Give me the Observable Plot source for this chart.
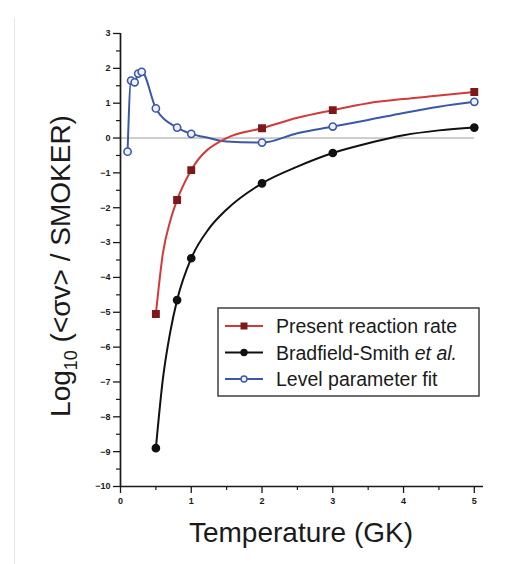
<!DOCTYPE html>
<html>
<head>
<meta charset="utf-8">
<script src="https://cdn.jsdelivr.net/npm/d3@7"></script>
<script src="https://cdn.jsdelivr.net/npm/@observablehq/plot@0.6"></script>
<style>
  body { margin: 0; background: #fff; }
  #chart { position: relative; width: 514px; height: 564px; }
  #chart .edge { position: absolute; left: 14px; top: 18px; bottom: 0; border-left: 1px solid #e6e6e6; }
  #chart svg { position: absolute; left: 0; top: 0; }
</style>
</head>
<body>
<div id="chart"><div class="edge"></div></div>
<script>
// Present reaction rate (line vertices; squares drawn at the tabulated temperatures)
const presentT   = [0.5, 0.6, 0.7, 0.8, 1.0, 1.5, 2.0, 2.5, 3.0, 3.5, 4.0, 4.5, 5.0];
const presentLog = [-5.05, -3.3, -2.4, -1.78, -0.92, 0.0, 0.28, 0.58, 0.8, 1.0, 1.12, 1.22, 1.32];
const presentMarkT = [0.5, 0.8, 1.0, 2.0, 3.0, 5.0];

// Bradfield-Smith et al.
const bradT   = [0.5, 0.6, 0.7, 0.8, 1.0, 1.25, 1.5, 2.0, 2.5, 3.0, 3.5, 4.0, 4.5, 5.0];
const bradLog = [-8.9, -6.9, -5.6, -4.65, -3.45, -2.6, -2.05, -1.3, -0.82, -0.43, -0.15, 0.08, 0.22, 0.3];
const bradMarkT = [0.5, 0.8, 1.0, 2.0, 3.0, 5.0];

// Level parameter fit
const levelT   = [0.1, 0.15, 0.2, 0.25, 0.3, 0.5, 0.8, 1.0, 1.25, 1.5, 2.0, 2.5, 3.0, 3.5, 4.0, 4.5, 5.0];
const levelLog = [-0.39, 1.65, 1.6, 1.85, 1.9, 0.85, 0.3, 0.12, 0.0, -0.1, -0.13, 0.14, 0.33, 0.52, 0.72, 0.9, 1.04];
const levelMarkT = [0.1, 0.15, 0.2, 0.25, 0.3, 0.5, 0.8, 1.0, 2.0, 3.0, 5.0];

const yMajor = d3.range(-10, 4, 1);
const yMinor = d3.range(-9.5, 3, 1);
const xMajor = [0, 1, 2, 3, 4, 5];
const xMinor = [0.5, 1.5, 2.5, 3.5, 4.5];

const legendLabels = ["Present reaction rate", "Bradfield-Smith ", "Level parameter fit"];

const colors = { present: "#d23a3a", presentMark: "#7c1a1a", brad: "#111111", level: "#3a58a8" };

const rows = (T, V) => T.map((t, i) => ({ t, v: V[i] }));
const marks = (T, V, keep) => rows(T, V).filter(d => keep.includes(d.t));

const present = rows(presentT, presentLog);
const brad = rows(bradT, bradLog);
const level = rows(levelT, levelLog);

const plot = Plot.plot({
  width: 514,
  height: 564,
  marginLeft: 120,
  marginRight: 31,
  marginTop: 33,
  marginBottom: 78,
  style: { fontFamily: "'Liberation Sans', Arial, sans-serif", background: "transparent", color: "#1a1a1a" },
  x: { domain: [0, 5.13] },
  y: { domain: [-10, 3] },
  marks: [
    Plot.ruleY([0], { x1: 0, x2: 5, stroke: "#9c9c9c", strokeWidth: 1 }),
    Plot.axisY(yMajor, { tickSize: 7, tickPadding: 3, fontSize: 9, fontWeight: "bold", strokeWidth: 1.3, label: null }),
    Plot.axisY(yMinor, { tickSize: 4, text: null, strokeWidth: 1.2, label: null }),
    Plot.axisX(xMajor, { tickSize: 7, tickPadding: 4, fontSize: 9, fontWeight: "bold", strokeWidth: 1.3, label: null }),
    Plot.axisX(xMinor, { tickSize: 4, text: null, strokeWidth: 1.2, label: null }),
    Plot.ruleX([0], { y1: -10, y2: 3, stroke: "#1a1a1a", strokeWidth: 1.7 }),
    Plot.ruleY([-10], { x1: 0, x2: 5.13, stroke: "#1a1a1a", strokeWidth: 1.7 }),

    Plot.line(brad, { x: "t", y: "v", stroke: colors.brad, strokeWidth: 2, curve: "monotone-x" }),
    Plot.line(level, { x: "t", y: "v", stroke: colors.level, strokeWidth: 2, curve: "monotone-x" }),
    Plot.line(present, { x: "t", y: "v", stroke: colors.present, strokeWidth: 2, curve: "monotone-x" }),

    Plot.dot(marks(bradT, bradLog, bradMarkT), { x: "t", y: "v", r: 3.6, fill: colors.brad, stroke: colors.brad }),
    Plot.dot(marks(levelT, levelLog, levelMarkT), { x: "t", y: "v", r: 3.6, fill: "#eef2fa", stroke: colors.level, strokeWidth: 1.6 }),
    Plot.dot(marks(presentT, presentLog, presentMarkT), { x: "t", y: "v", r: 3.6, symbol: "square", fill: colors.presentMark, stroke: colors.presentMark })
  ]
});

document.getElementById("chart").appendChild(plot);

const svg = d3.select(plot);
const font = "'Liberation Sans', Arial, sans-serif";

// Axis titles
svg.append("text")
  .attr("x", 301).attr("y", 542)
  .attr("text-anchor", "middle")
  .attr("font-family", font).attr("font-size", 28).attr("fill", "#1a1a1a")
  .text("Temperature (GK)");

const yTitle = svg.append("text")
  .attr("transform", "translate(70,266) rotate(-90)")
  .attr("text-anchor", "middle")
  .attr("font-family", font).attr("font-size", 28).attr("fill", "#1a1a1a");
yTitle.append("tspan").text("Log");
yTitle.append("tspan").attr("font-size", 18).attr("dy", 7).text("10");
yTitle.append("tspan").attr("dy", -7).text(" (<σv> / SMOKER)");

// Legend box
const lg = svg.append("g").attr("font-family", font).attr("text-anchor", "start");
lg.append("rect")
  .attr("x", 218).attr("y", 308).attr("width", 261).attr("height", 88)
  .attr("fill", "#fff").attr("stroke", "#4a4a4a").attr("stroke-width", 1.6);

const entries = [
  { label: legendLabels[0], color: colors.present, mark: "square", fill: colors.presentMark },
  { label: legendLabels[1], color: colors.brad, mark: "circle", fill: colors.brad, italic: "et al." },
  { label: legendLabels[2], color: colors.level, mark: "circle", fill: "#eef2fa" }
];
entries.forEach((e, i) => {
  const y = 326 + i * 26.5;
  lg.append("line").attr("x1", 225).attr("x2", 263).attr("y1", y).attr("y2", y)
    .attr("stroke", e.color).attr("stroke-width", 2.2);
  if (e.mark === "square") {
    lg.append("rect").attr("x", 241).attr("y", y - 3).attr("width", 6).attr("height", 6)
      .attr("fill", e.fill).attr("stroke", e.fill);
  } else {
    lg.append("circle").attr("cx", 244).attr("cy", y).attr("r", 3)
      .attr("fill", e.fill).attr("stroke", e.color).attr("stroke-width", 1.4);
  }
  const t = lg.append("text").attr("x", 276).attr("y", y).attr("dy", "0.36em")
    .attr("text-anchor", "start")
    .attr("font-size", 19.5).attr("fill", "#1a1a1a").text(e.label);
  if (e.italic) t.append("tspan").attr("font-style", "italic").text(e.italic);
});
</script>
</body>
</html>
